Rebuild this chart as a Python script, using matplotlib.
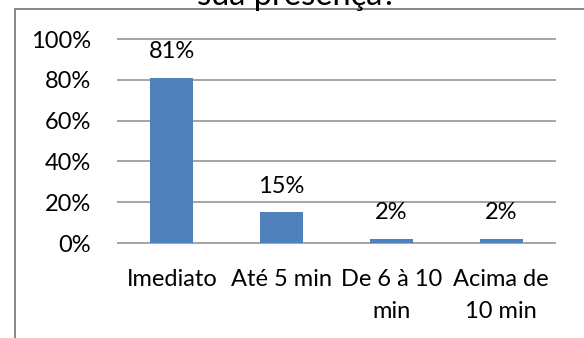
import matplotlib
matplotlib.use("Agg")
import matplotlib.pyplot as plt
from matplotlib.patches import Rectangle

# Chart data
categories = ["Imediato", "Até 5 min", "De 6 à 10\nmin", "Acima de\n10 min"]
values = [81, 15, 2, 2]
value_labels = ["81%", "15%", "2%", "2%"]
y_ticks = [0, 20, 40, 60, 80, 100]
y_tick_labels = ["0%", "20%", "40%", "60%", "80%", "100%"]
title_text = "sua presença?"

plt.rcParams['font.family'] = ['Lato', 'DejaVu Sans']

W, H = 584, 338
fig = plt.figure(figsize=(W / 100, H / 100), dpi=100)
fig.patch.set_facecolor("white")

# Outer chart-area border (open to the right and bottom)
fig.add_artist(Rectangle((15 / W, -0.2), 1.5, (H - 9) / H + 0.2,
                         transform=fig.transFigure, fill=False,
                         edgecolor="#868686", linewidth=1.4))

# Title (second line of a longer title)
fig.text(297 / W, (H - 5) / H, title_text, ha="center", va="baseline",
         fontsize=23.5, color="black")

ax = fig.add_axes([117 / W, 95 / H, (556 - 117) / W, (243 - 39) / H])
x = list(range(len(categories)))
ax.bar(x, values, width=0.39, color="#4F81BD", zorder=3)
ax.set_xlim(-0.5, len(categories) - 0.5)
ax.set_ylim(0, 100)

# Horizontal gridlines (including the baseline at 0%)
ax.hlines(y_ticks, -0.5, len(categories) - 0.5, colors="#8c8c8c",
          linewidth=1.1, zorder=1, clip_on=False)

for s in ax.spines.values():
    s.set_visible(False)

ax.set_yticks(y_ticks)
ax.set_yticklabels(y_tick_labels, fontsize=17)
ax.set_xticks(x)
ax.set_xticklabels(categories, fontsize=17, linespacing=1.65)
ax.tick_params(axis="y", length=0, pad=18.5)
ax.tick_params(axis="x", length=0, pad=18.5)

for xi, v, lab in zip(x, values, value_labels):
    ax.annotate(lab, (xi, v), xytext=(0, 14), textcoords="offset points",
                ha="center", va="baseline", fontsize=17)

fig.savefig("out.png", dpi=100, facecolor="white")
